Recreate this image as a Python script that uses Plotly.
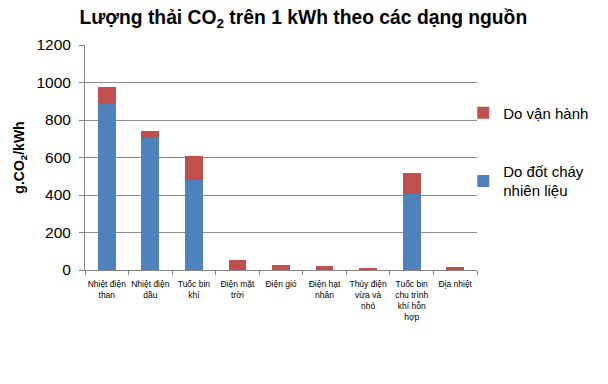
import plotly.graph_objects as go

categories = ["Nhiệt điện<br>than", "Nhiệt điện<br>dầu", "Tuốc bin<br>khí", "Điện mặt<br>trời",
              "Điện gió", "Điện hạt<br>nhân", "Thủy điện<br>vừa và<br>nhỏ",
              "Tuốc bin<br>chu trình<br>khí hỗn<br>hợp", "Địa nhiệt"]
combustion = [886, 704, 478, 0, 0, 0, 0, 408, 0]
operation = [89, 38, 130, 53, 29, 22, 11, 111, 15]
y_ticks = [0, 200, 400, 600, 800, 1000, 1200]

font = "Liberation Sans, Arial, sans-serif"

fig = go.Figure()
fig.add_trace(go.Bar(x=categories, y=combustion, name="Do đốt cháy<br>nhiên liệu",
                     marker=dict(color="#4F81BD", line=dict(width=0)), legend="legend2"))
fig.add_trace(go.Bar(x=categories, y=operation, name="Do vận hành",
                     marker=dict(color="#C0504D", line=dict(width=0)), legend="legend"))

fig.update_layout(
    width=608, height=384,
    barmode="stack", bargap=0.59,
    paper_bgcolor="white", plot_bgcolor="white",
    margin=dict(l=85, r=131, t=45, b=114, autoexpand=False),
    font=dict(family=font, color="black"),
    title=dict(text="<b>Lượng thải CO<sub>2</sub> trên 1 kWh theo các dạng nguồn</b>",
               x=0.499, xanchor="center", y=0.956, yanchor="middle",
               font=dict(size=19.3, family=font, color="black")),
    showlegend=True,
    legend=dict(x=0.965, y=0.698, xanchor="left", yanchor="middle",
                font=dict(size=15, family=font), bgcolor="rgba(0,0,0,0)"),
    legend2=dict(x=0.965, y=0.396, xanchor="left", yanchor="middle",
                 font=dict(size=15, family=font), bgcolor="rgba(0,0,0,0)"),
)
fig.update_xaxes(
    type="category", tickson="boundaries", ticks="outside", ticklen=4, tickcolor="#868686",
    showline=True, linecolor="#868686", linewidth=1, showgrid=False, automargin=False,
    tickfont=dict(size=8.5, family=font, color="black"), tickangle=0, ticklabelstandoff=6,
)
fig.update_yaxes(
    range=[0, 1200], tickvals=y_ticks, ticks="outside", ticklen=5, tickcolor="#868686",
    showline=True, linecolor="#868686", linewidth=1, automargin=False,
    showgrid=True, gridcolor="#8c8c8c", gridwidth=1, zeroline=False,
    tickfont=dict(size=15.5, family=font, color="black"), ticklabelstandoff=5,
    title=dict(text="<b>g.CO<sub>2</sub>/kWh</b>", font=dict(size=14, family=font), standoff=8),
)
fig.write_html("out.html", config={"displayModeBar": False},
               post_script="document.body.style.margin='0';")
